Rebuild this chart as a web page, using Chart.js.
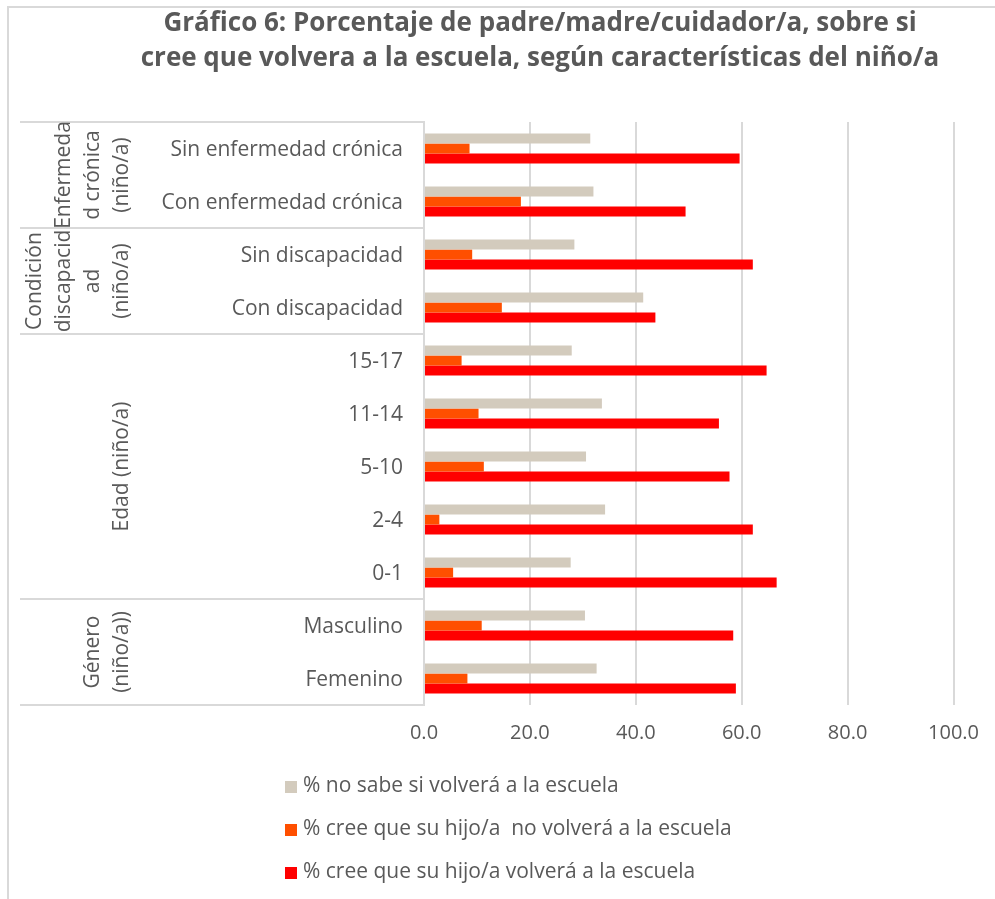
<!DOCTYPE html>
<html>
<head>
<meta charset="utf-8">
<script src="https://cdn.jsdelivr.net/npm/chart.js@4.4.0/dist/chart.umd.min.js"></script>
<style>
  body { margin: 0; background: #fff; }
  #wrap { width: 995px; height: 899px; position: relative; }
</style>
</head>
<body>
<div id="wrap"><canvas id="mycanvas" width="995" height="899"></canvas></div>
<script>
var categorias = ['Sin enfermedad crónica', 'Con enfermedad crónica', 'Sin discapacidad', 'Con discapacidad',
	'15-17', '11-14', '5-10', '2-4', '0-1', 'Masculino', 'Femenino'];
var noSabe   = [31.4, 32.0, 28.4, 41.4, 27.9, 33.6, 30.6, 34.2, 27.7, 30.4, 32.6];
var noVolvera = [8.6, 18.3, 9.1, 14.7, 7.1, 10.3, 11.3, 2.9, 5.5, 10.9, 8.2];
var volvera  = [59.6, 49.4, 62.1, 43.7, 64.7, 55.7, 57.7, 62.1, 66.6, 58.4, 58.9];

var grupos = [['Enfermeda', 'd crónica', '(niño/a)'], ['Condición', 'discapacid', 'ad', '(niño/a)'], ['Edad (niño/a)'], ['Género', '(niño/a))']];
var tamanoGrupos = [2, 2, 5, 2];

var titulo = ['Gráfico 6: Porcentaje de padre/madre/cuidador/a, sobre si', 'cree que volvera a la escuela, según características del niño/a'];
var ticksX = [0, 20, 40, 60, 80, 100];

var gris = '#595959';
var fuente = '"Open Sans", Lato, sans-serif';

// marco, titulo, grupos y leyenda
var extras = {
	id: 'extras',
	beforeDraw: function(chart) {
		var c = chart.ctx;
		c.save();
		c.fillStyle = '#fff';
		c.fillRect(0, 0, chart.width, chart.height);
		c.strokeStyle = '#d9d9d9';
		c.lineWidth = 2;
		c.beginPath();
		c.moveTo(8, chart.height);
		c.lineTo(8, 7);
		c.lineTo(chart.width, 7);
		c.stroke();
		c.restore();
	},
	afterDraw: function(chart) {
		var c = chart.ctx;
		var y = chart.scales.y;
		var area = chart.chartArea;
		c.save();
		// titulo
		c.fillStyle = gris;
		c.font = 'bold 26px ' + fuente;
		c.textAlign = 'center';
		c.textBaseline = 'middle';
		for (var t = 0; t < titulo.length; t++) {
			c.fillText(titulo[t], 540, 24 + t * 35);
		}
		// separadores de grupos
		c.strokeStyle = '#d9d9d9';
		c.lineWidth = 2;
		var bordes = [area.top];
		var idx = 0;
		for (var g = 0; g < tamanoGrupos.length; g++) {
			idx += tamanoGrupos[g];
			if (idx < categorias.length) {
				bordes.push((y.getPixelForValue(idx - 1) + y.getPixelForValue(idx)) / 2);
			} else {
				bordes.push(area.bottom);
			}
		}
		for (var b = 0; b < bordes.length; b++) {
			c.beginPath();
			c.moveTo(20, bordes[b]);
			c.lineTo(area.left, bordes[b]);
			c.stroke();
		}
		// etiquetas de grupo (texto vertical)
		c.fillStyle = gris;
		c.font = '21px ' + fuente;
		for (var g2 = 0; g2 < grupos.length; g2++) {
			var cy = (bordes[g2] + bordes[g2 + 1]) / 2;
			var lineas = grupos[g2];
			for (var l = 0; l < lineas.length; l++) {
				var cx = 122 - (lineas.length - 1 - l) * 29;
				c.save();
				c.translate(cx, cy);
				c.rotate(-Math.PI / 2);
				c.fillText(lineas[l], 0, 0);
				c.restore();
			}
		}
		// leyenda
		var ds = chart.data.datasets;
		c.textAlign = 'left';
		for (var d = 0; d < ds.length; d++) {
			var ly = 786 + d * 43;
			c.fillStyle = ds[d].backgroundColor;
			c.fillRect(285, ly - 5, 12, 12);
			c.fillStyle = gris;
			c.fillText(ds[d].label, 303, ly);
		}
		c.restore();
	}
};

var chartdata = {
	labels: categorias,
	datasets: [
		{
			label: '% no sabe si volverá a la escuela',
			backgroundColor: '#d3cbbd',
			data: noSabe
		},
		{
			label: '% cree que su hijo/a  no volverá a la escuela',
			backgroundColor: '#ff4f00',
			data: noVolvera
		},
		{
			label: '% cree que su hijo/a volverá a la escuela',
			backgroundColor: '#ff0000',
			data: volvera
		}
	]
};

var ctx = document.getElementById('mycanvas');

var barGraph = new Chart(ctx, {
	type: 'bar',
	data: chartdata,
	plugins: [extras],
	options: {
		responsive: false,
		animation: false,
		indexAxis: 'y',
		layout: { padding: { left: 0, right: 41, top: 122, bottom: 154 } },
		datasets: { bar: { barPercentage: 1.0, categoryPercentage: 0.57 } },
		plugins: {
			legend: { display: false },
			title: { display: false },
			tooltip: { enabled: false }
		},
		scales: {
			x: {
				min: 0,
				max: 100,
				afterBuildTicks: function(scale) {
					scale.ticks = ticksX.map(function(v) { return { value: v }; });
				},
				afterFit: function(scale) { scale.height = 40; },
				grid: { color: '#d9d9d9', lineWidth: 2, drawTicks: false },
				border: { display: false },
				ticks: {
					color: gris,
					font: { family: fuente, size: 20 },
					padding: 16,
					callback: function(v) { return Number(v).toFixed(1); }
				}
			},
			y: {
				afterFit: function(scale) { scale.width = 424; },
				grid: { display: false, drawTicks: false },
				border: { display: true, color: '#d9d9d9', width: 2 },
				ticks: {
					color: gris,
					font: { family: fuente, size: 21 },
					padding: 21,
					labelOffset: 2
				}
			}
		}
	}
});
</script>
</body>
</html>
